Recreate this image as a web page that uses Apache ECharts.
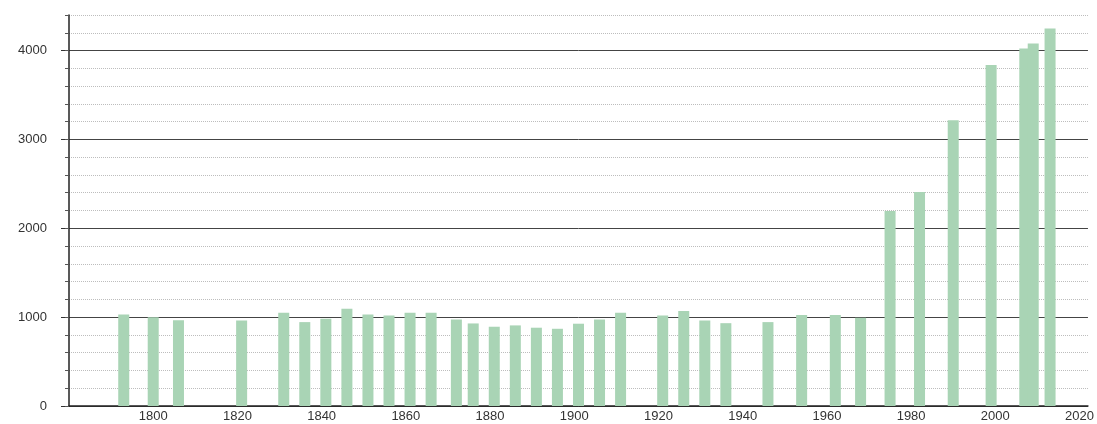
<!DOCTYPE html>
<html>
<head>
<meta charset="utf-8">
<script src="https://cdn.jsdelivr.net/npm/echarts@6/dist/echarts.min.js"></script>
<style>
html,body{margin:0;padding:0;background:#fff;}
#chart{width:1097px;height:424px;}
</style>
</head>
<body>
<div id="chart"></div>
<script>
var years = [1793,1800,1806,1821,1831,1836,1841,1846,1851,1856,1861,1866,1872,1876,1881,1886,1891,1896,1901,1906,1911,1921,1926,1931,1936,1946,1954,1962,1968,1975,1982,1990,1999,2007,2009,2013];
var population = [1030,1000,966,963,1050,944,982,1095,1030,1019,1050,1050,974,929,892,907,881,869,926,974,1050,1019,1068,963,932,944,1023,1023,993,2194,2408,3215,3838,4023,4079,4248];
var xTickLabels = [1800,1820,1840,1860,1880,1900,1920,1940,1960,1980,2000,2020];
var yTickLabels = [0,1000,2000,3000,4000];

var seriesData = years.map(function(y,i){return [y, population[i]];});

var chart = echarts.init(document.getElementById('chart'), null, {renderer:'canvas'});
chart.setOption({
  animation:false,
  backgroundColor:'#ffffff',
  grid:{left:69, right:7, top:15, bottom:18, containLabel:false},
  xAxis:{
    type:'value', min:1780, max:2022, interval:20,
    axisLine:{show:true, lineStyle:{color:'#222', width:1.5}},
    axisTick:{show:false},
    splitLine:{show:false},
    axisLabel:{
      margin:4, color:'#333', fontSize:13, fontFamily:'Liberation Sans, Arial, sans-serif',
      showMinLabel:false, showMaxLabel:false,
      formatter:function(v){return xTickLabels.indexOf(v) >= 0 ? String(v) : '';}
    }
  },
  yAxis:[{
    type:'value', min:0, max:4400, interval:1000, position:'left',
    axisLine:{show:true, lineStyle:{color:'#222', width:1.5}},
    axisTick:{show:true, length:8, lineStyle:{color:'#333'}},
    splitLine:{show:true, lineStyle:{color:['#444','#444','#444','#444','#444','rgba(0,0,0,0)'], width:1}},
    axisLabel:{
      margin:22, color:'#333', fontSize:13, fontFamily:'Liberation Sans, Arial, sans-serif',
      showMaxLabel:false,
      formatter:function(v){return yTickLabels.indexOf(v) >= 0 ? String(v) : '';}
    }
  },{
    type:'value', min:0, max:4400, interval:200, position:'left',
    axisLine:{show:false},
    axisTick:{show:true, length:4, lineStyle:{color:'#555'}},
    axisLabel:{show:false},
    splitLine:{show:true, lineStyle:{color:['rgba(0,0,0,0)','#bdbdbd','#bdbdbd','#bdbdbd','#bdbdbd'], type:'dotted', width:1}}
  }],
  series:[{
    type:'bar',
    xAxisIndex:0, yAxisIndex:0,
    data:seriesData,
    barWidth:11,
    itemStyle:{color:'#a9d4b5'},
    z:5
  }]
});
</script>
</body>
</html>
